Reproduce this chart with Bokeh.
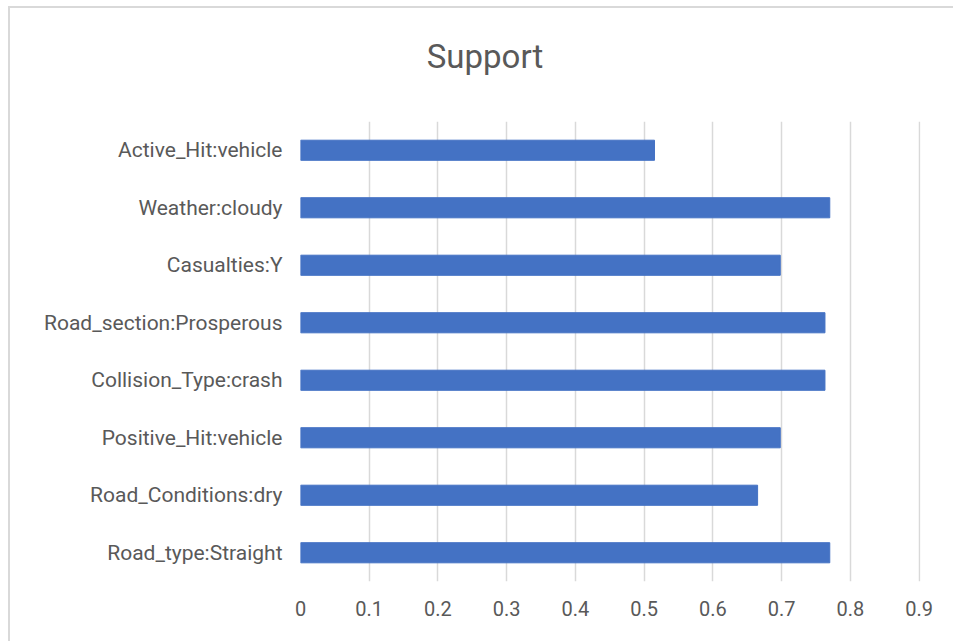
from bokeh.plotting import figure
from bokeh.layouts import column
from bokeh.models import FactorRange, Range1d, FixedTicker, Div
from bokeh.embed import file_html
from bokeh.resources import INLINE

# Rules listed top to bottom, with their support values
rules = [
    "Active_Hit:vehicle",
    "Weather:cloudy",
    "Casualties:Y",
    "Road_section:Prosperous",
    "Collision_Type:crash",
    "Positive_Hit:vehicle",
    "Road_Conditions:dry",
    "Road_type:Straight",
]
support = [0.515, 0.770, 0.698, 0.763, 0.763, 0.698, 0.665, 0.770]
x_ticks = [0, 0.1, 0.2, 0.3, 0.4, 0.5, 0.6, 0.7, 0.8, 0.9]

FONT = "Roboto"
GREY = "#595959"

title = Div(text="Support", width=940, height=88,
            styles={"font-family": FONT, "font-size": "33px", "color": GREY,
                    "text-align": "center", "line-height": "88px"})

p = figure(
    width=950, height=535,
    y_range=FactorRange(factors=list(reversed(rules))),
    x_range=Range1d(0, 0.902),
    output_backend="svg", toolbar_location=None,
    min_border_left=290, min_border_right=40,
    min_border_top=15, min_border_bottom=60,
    outline_line_color=None,
    background_fill_color="white", border_fill_color="white",
)

p.hbar(y=rules, right=support, left=0, height=0.35,
       fill_color="#4472C4", line_color="#4472C4")

p.xaxis.ticker = FixedTicker(ticks=x_ticks)
p.xaxis.major_label_overrides = {t: ("0" if t == 0 else f"{t:.1f}") for t in x_ticks}
for ax in (p.xaxis, p.yaxis):
    ax.axis_line_color = None
    ax.major_tick_line_color = None
    ax.minor_tick_line_color = None
    ax.major_label_text_font = FONT
    ax.major_label_text_color = GREY
p.xaxis.major_label_text_font_size = "20px"
p.yaxis.major_label_text_font_size = "21px"
p.xaxis.major_label_standoff = 13
p.yaxis.major_label_standoff = 12

p.xgrid.ticker = FixedTicker(ticks=x_ticks)
p.xgrid.grid_line_color = "#d9d9d9"
p.xgrid.grid_line_width = 1.5
p.ygrid.grid_line_color = None

# chart area with a light border on its top and left edges
page = column(title, p, spacing=0,
              styles={"border-left": "2px solid #d9d9d9",
                      "border-top": "2px solid #d9d9d9",
                      "margin-left": "8px", "margin-top": "6px"})

open("out.html", "w").write(file_html(page, INLINE))
